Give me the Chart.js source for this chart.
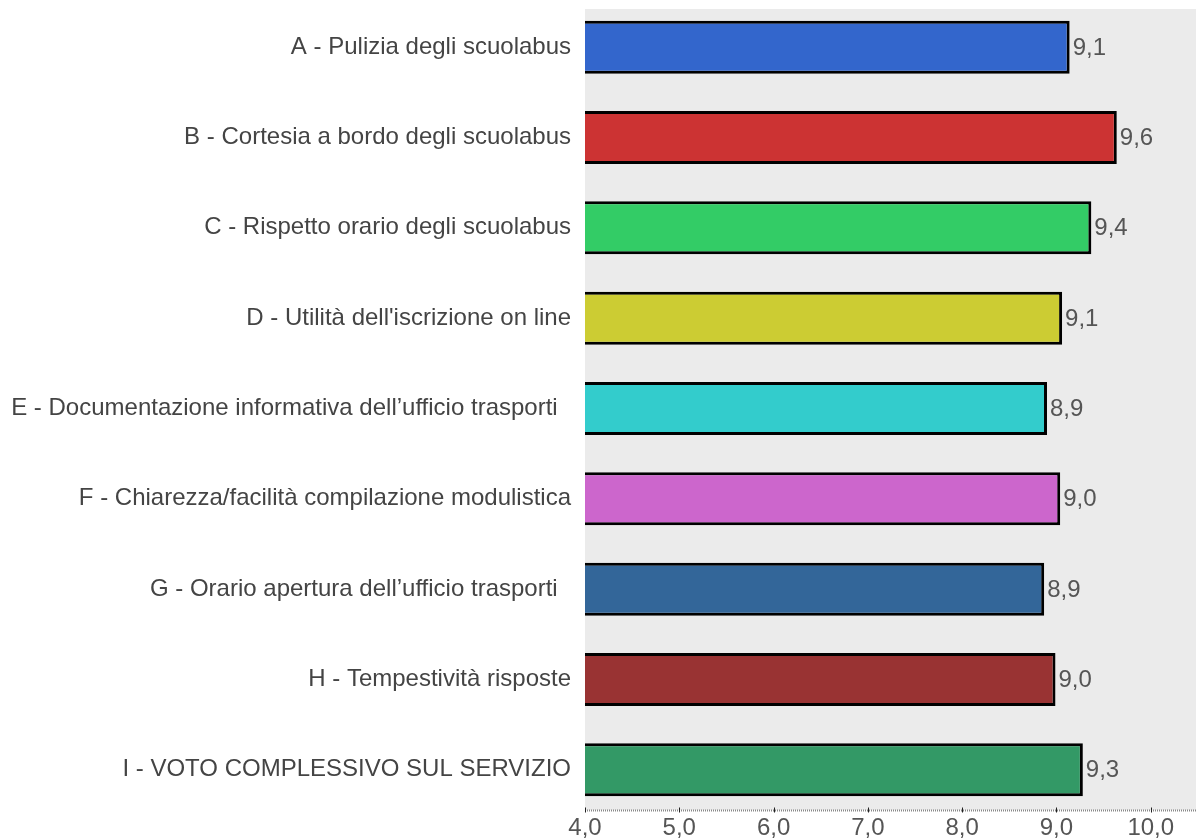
<!DOCTYPE html>
<html>
<head>
<meta charset="utf-8">
<script src="https://cdn.jsdelivr.net/npm/chart.js@4/dist/chart.umd.min.js"></script>
<style>
  html, body { margin: 0; padding: 0; background: #fff; }
  #wrap { width: 1196px; height: 840px; position: relative; }
</style>
</head>
<body>
<div id="wrap"><canvas id="votiChart"></canvas></div>
<script>
// Categories and scores
const categories = [
  "A - Pulizia degli scuolabus",
  "B - Cortesia a bordo degli scuolabus",
  "C - Rispetto orario degli scuolabus",
  "D - Utilità dell'iscrizione on line",
  "E - Documentazione informativa dell\u2019ufficio trasporti  ",
  "F - Chiarezza/facilità compilazione modulistica",
  "G - Orario apertura dell\u2019ufficio trasporti  ",
  "H - Tempestività risposte",
  "I - VOTO COMPLESSIVO SUL SERVIZIO"
];
const scores = [9.14, 9.64, 9.37, 9.06, 8.90, 9.04, 8.87, 8.99, 9.28];
const barColors = ["#3366cc", "#cc3333", "#33cc66", "#cccc33", "#33cccc", "#cc66cc", "#336699", "#993333", "#339966"];
const xTicks = [4, 5, 6, 7, 8, 9, 10];

const FONT = "'Liberation Sans', Arial, sans-serif";
const fmt = (v) => v.toFixed(1).replace(".", ",");

// gray plot background + dotted axis line
const plotBg = {
  id: "plotBg",
  beforeDraw(chart) {
    const { ctx, chartArea } = chart;
    ctx.save();
    ctx.fillStyle = "#ebebeb";
    ctx.fillRect(chartArea.left, 9, chartArea.right - chartArea.left, 801);
    ctx.restore();
  },
  afterDraw(chart) {
    const { ctx, chartArea } = chart;
    const xs = chart.scales.x;
    const y = 810.5;
    ctx.save();
    ctx.strokeStyle = "#888";
    ctx.lineWidth = 2;
    ctx.setLineDash([1, 1]);
    ctx.beginPath();
    ctx.moveTo(chartArea.left, y);
    ctx.lineTo(chartArea.right, y);
    ctx.stroke();
    ctx.setLineDash([]);
    ctx.strokeStyle = "#222";
    ctx.lineWidth = 1;
    xTicks.forEach((v) => {
      const x = Math.round(xs.getPixelForValue(v)) + 0.5;
      ctx.beginPath();
      ctx.moveTo(x, y - 3);
      ctx.lineTo(x, y + 2);
      ctx.stroke();
    });
    ctx.restore();
  }
};

// value labels at bar ends
const valueLabels = {
  id: "valueLabels",
  afterDatasetsDraw(chart) {
    const { ctx } = chart;
    const meta = chart.getDatasetMeta(0);
    ctx.save();
    ctx.font = "24px " + FONT;
    ctx.fillStyle = "#555";
    ctx.textBaseline = "middle";
    meta.data.forEach((bar, i) => {
      ctx.fillText(fmt(scores[i]), bar.x + 3, bar.y + 1);
    });
    ctx.restore();
  }
};

document.addEventListener("DOMContentLoaded", function () {
  const ctx = document.getElementById("votiChart").getContext("2d");
  new Chart(ctx, {
    type: "bar",
    data: {
      labels: categories,
      datasets: [
        {
          data: scores,
          backgroundColor: barColors,
          borderColor: "#000",
          borderWidth: 3,
          borderSkipped: false,
          categoryPercentage: 0.587,
          barPercentage: 1
        }
      ]
    },
    options: {
      indexAxis: "y",
      responsive: true,
      maintainAspectRatio: false,
      animation: false,
      layout: { padding: { top: 2, right: 0, left: 0, bottom: 0 } },
      plugins: {
        legend: { display: false },
        tooltip: { enabled: false }
      },
      scales: {
        x: {
          min: 4,
          max: 10.48,
          afterBuildTicks(scale) {
            scale.ticks = xTicks.map((v) => ({ value: v }));
          },
          afterFit(scale) {
            scale.height = 25;
            scale.paddingLeft = 0;
            scale.paddingRight = 0;
          },
          grid: { display: false, drawTicks: false },
          border: { display: false },
          ticks: {
            color: "#555",
            font: { size: 24, family: FONT },
            padding: -1,
            maxRotation: 0,
            callback: (v) => fmt(v)
          }
        },
        y: {
          afterFit(scale) {
            scale.width = 585;
            scale.paddingTop = 0;
            scale.paddingBottom = 0;
          },
          grid: { display: false },
          border: { display: false },
          ticks: {
            color: "#444",
            font: { size: 24, family: FONT },
            padding: 6
          }
        }
      }
    },
    plugins: [plotBg, valueLabels]
  });
});
</script>
</body>
</html>
